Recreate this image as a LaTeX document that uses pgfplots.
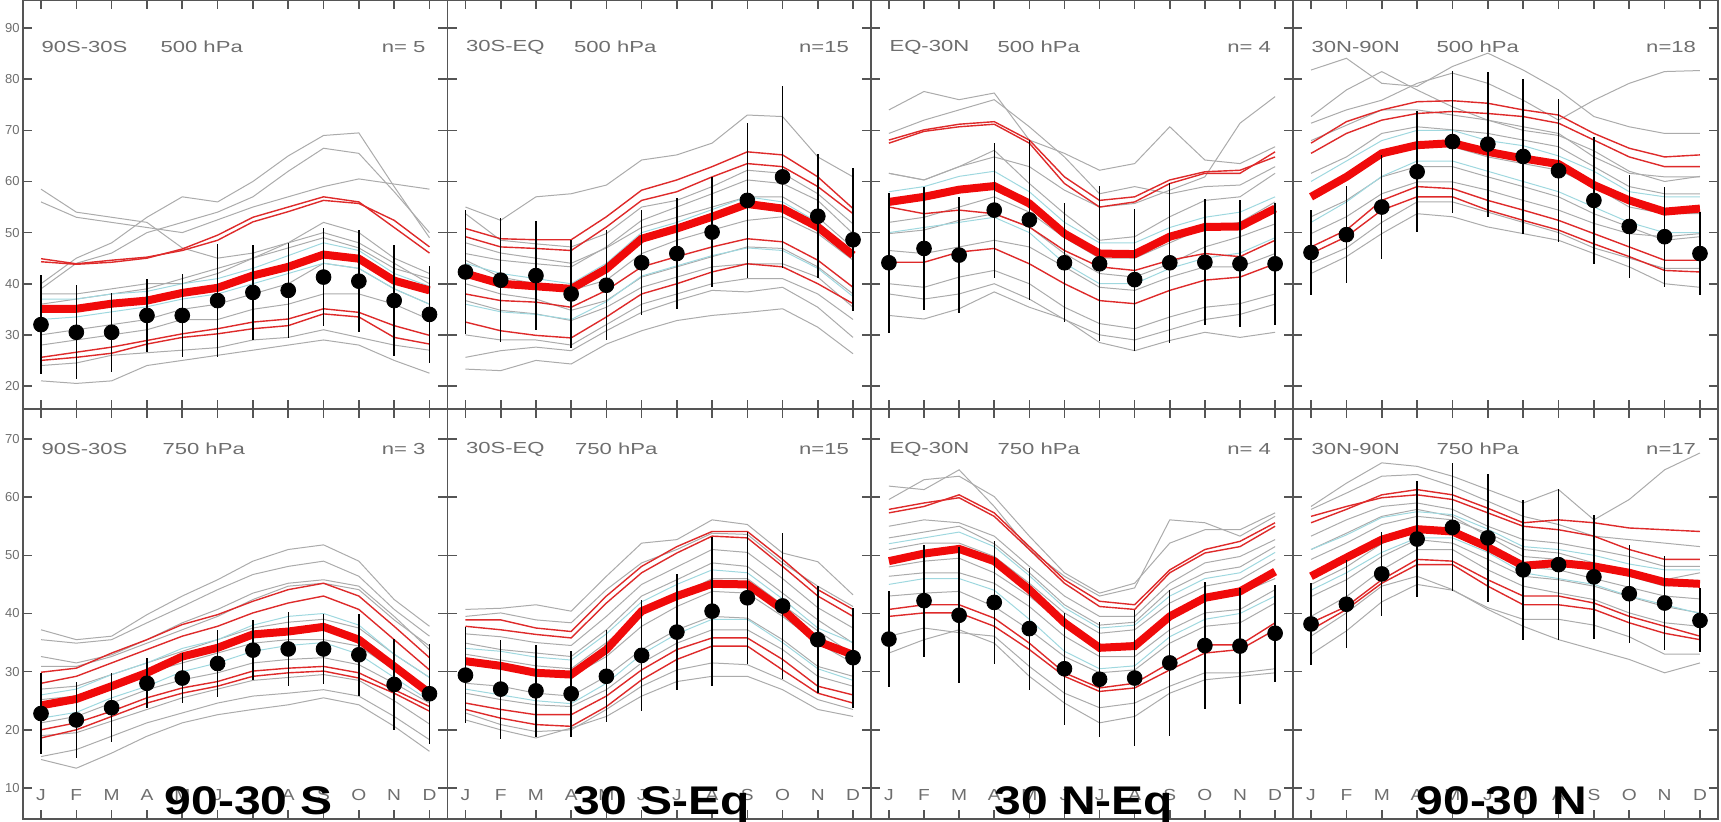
\documentclass[border=0pt]{standalone}
\usepackage{fontspec}
\setmainfont{Liberation Sans}
\usepackage{pgfplots}
\usepackage{pgfplotstable}
\pgfplotsset{compat=1.18}
\definecolor{cgray}{HTML}{ABABAB}
\definecolor{ccyan}{HTML}{9FD8DF}
\definecolor{cred}{HTML}{DE2A2A}
\definecolor{cthick}{HTML}{F00A0A}
\definecolor{caxis}{HTML}{555555}
\definecolor{clab}{HTML}{6E6E6E}

% columns: m month, d obs mean, e obs spread, t model mean, r* selected models, g*/c* other models
\pgfplotstableread{
m d e t r1 r2 r3 r4 g1 g2 g3 g4 g5 g6 g7 g8 g9 g10 c1 c2
1 32.0 9.7 35.1 44.9 25.6 25.0 44.3 40 39 56 58.5 21 24 38 30 28 36 33 37
2 30.5 9.2 35.1 43.9 26.6 25.6 43.8 45 44 53 54 20.5 24.5 38 31 29 37 33.5 37
3 30.5 7.7 36.1 44.6 27.6 26.4 44.2 48 46 52 53 21 26 39 32 30 38 34.5 38
4 33.8 7.2 36.7 45.2 28.9 28.2 45.0 53 50 51 52 24 26.5 40 33 31 39 35.5 38.5
5 33.8 8.2 38.2 46.5 30.2 29.5 46.8 57 52 50 47 25 27 40 35 33 41 37 40
6 36.7 11.1 39.2 48.5 31.2 30.2 49.5 56 54 52.5 45 26 27.5 42 36 33 43 38 41
7 38.3 9.3 41.6 52.1 32.5 31.2 53.0 60 57 55 46 27 29 45 38 35 45 40 43
8 38.7 9.3 43.3 54.1 33.1 31.8 55.0 65 62 57 48 28 29.5 48 40 36 47 42 45.5
9 41.3 9.6 45.7 56.3 35.1 34.1 57.0 69 66.5 59 52 29 31 50 44 38 49 44 48
10 40.5 10.0 44.9 55.7 34.4 33.5 56.0 69.5 65.5 60.5 50 28 29.5 48 43 38 47 43 46.5
11 36.7 10.8 40.6 52.4 31.8 29.5 51.0 59 58 59.5 45 25 28 44 39 36 43 39 42
12 34.0 9.5 38.7 47.2 29.9 28.2 46.0 49 50 58.5 42 22.5 27 40 36 33 41 36 39.5
}\tabA
\pgfplotstableread{
m d e t r1 r2 r3 r4 g1 g2 g3 g4 g5 g6 g7 g8 g9 g10 c1 c2
1 42.3 12.2 42.0 50.8 49.2 32.5 38.0 55.0 23.3 25.6 45.9 44.6 40.0 36.7 53.7 48 30 44 36
2 40.7 12.1 40.0 48.8 47.2 30.8 36.7 52.4 23.0 26.9 44.6 41.3 38.0 34.8 48.5 46 29 42 34.5
3 41.6 10.6 39.5 48.6 46.9 29.9 36.4 57.0 25.0 27.6 43.9 40.0 37.0 34.1 47.8 45 29 41 34
4 38.0 10.6 39.0 48.6 46.5 29.4 35.4 57.6 24.3 26.9 43.3 38.7 34.8 32.8 47.2 44 28 40 33
5 39.7 10.8 42.9 53.1 51.1 33.5 38.7 59.3 28.2 30.8 47.2 40.7 36.7 35.4 49.8 47 32 44 36.5
6 44.1 10.3 48.8 58.3 56.3 38.0 43.3 64.2 30.8 34.4 52.4 45.9 41.3 39.3 55.0 51 36 50 41.5
7 45.9 10.8 50.8 60.3 58.0 40.0 45.3 65.2 32.8 36.7 55.0 48.5 43.3 41.3 56.3 53 38 52 43.5
8 50.1 10.8 53.1 62.9 60.9 42.3 47.2 67.5 33.8 38.7 57.6 50.5 45.3 43.3 59.0 55 40 54.5 45.5
9 56.3 15.2 55.6 65.8 63.5 43.9 48.8 73.0 34.4 38.4 60.3 52.4 47.2 43.9 62.2 57 41 57 47
10 60.9 17.8 54.7 65.2 62.9 43.3 48.2 72.7 35.1 39.3 59.6 53.1 46.9 43.9 61.6 57 41 56 46.5
11 53.2 12.1 51.1 60.9 59.0 40.0 44.6 64.8 31.5 35.4 56.3 49.8 43.3 41.3 57.6 53 38 52 43
12 48.6 14.0 45.6 54.7 53.7 36.1 39.3 60.9 26.3 29.5 49.8 44.6 38.0 35.4 51.7 47 33 46 37.5
}\tabB
\pgfplotstableread{
m d e t r1 r2 r3 r4 g1 g2 g3 g4 g5 g6 g7 g8 g9 g10 c1 c2
1 44.1 13.7 56.0 67.5 68.1 44.2 55.0 74.0 61.6 33.8 40.0 49.8 61.6 69.4 46.5 52 38 50 58
2 46.9 12.0 57.0 69.8 70.1 44.2 53.7 77.6 60.3 33.1 39.3 50.5 60.3 72.0 45.9 53 37 51 59
3 45.6 11.3 58.4 70.7 71.2 46.2 54.4 76.0 62.9 35.1 41.3 52.4 62.9 74.0 47.2 55 38 52 61
4 54.4 13.2 59.1 71.2 71.7 46.9 53.7 77.3 64.8 38.4 42.6 53.7 66.1 76.0 48.5 57 40 53 62
5 52.5 15.7 55.7 67.5 68.1 43.9 51.1 68.1 62.9 35.4 40.0 51.1 59.6 70.7 47.2 54 37 50 58
6 44.1 11.6 49.8 59.6 60.9 40.0 46.5 65.5 58.3 33.1 35.4 45.9 53.7 64.8 43.3 49 33 44 52
7 43.9 15.2 45.9 55.0 56.3 36.7 43.3 62.2 55.0 28.5 32.2 42.0 48.5 57.6 39.3 45 30 40 48
8 40.8 13.9 45.8 56.0 57.0 36.1 42.6 63.5 55.7 26.9 31.2 41.3 49.2 59.0 38.7 45 29 40 48
9 44.1 15.7 49.2 59.6 60.3 38.7 44.6 70.7 58.3 28.9 33.5 43.9 53.1 57.6 41.3 48 31 43 51
10 44.2 12.3 51.1 61.6 61.9 40.7 45.9 64.2 60.9 30.5 35.4 47.2 56.3 59.0 43.3 51 33 45 53
11 43.9 12.4 51.2 61.6 62.2 41.3 45.3 63.5 71.4 29.5 36.1 49.2 57.0 59.3 43.3 52 34 46 54
12 43.9 11.9 54.7 65.8 64.8 43.9 48.5 66.8 76.6 30.5 38.0 51.7 61.6 62.9 45.9 56 36 49 57
}\tabC
\pgfplotstableread{
m d e t r1 r2 r3 r4 g1 g2 g3 g4 g5 g6 g7 g8 g9 g10 c1 c2
1 46.1 8.3 57.0 67.5 65.5 47.2 45.9 81.8 71.4 72.7 61.6 53.1 42.0 49.8 57.0 44 68 52 60
2 49.6 9.5 60.9 71.7 69.4 50.5 49.2 84.1 74.0 77.9 64.8 56.3 45.3 53.1 60.3 47 71 56 64
3 55.0 10.1 65.5 74.0 72.0 56.3 54.4 79.2 75.9 81.5 69.4 60.9 49.8 57.6 64.8 52 74 61 68
4 61.9 11.8 67.1 75.6 73.3 59.0 57.0 78.6 79.2 77.9 70.7 62.9 53.7 59.9 66.8 56 74 64 70
5 67.8 13.9 67.5 75.8 73.7 58.6 57.0 82.5 81.2 74.6 70.1 62.9 53.1 59.9 66.8 56 73 64 70
6 67.3 14.2 65.8 75.3 73.3 56.3 54.4 85.1 79.2 72.0 69.4 60.9 51.1 58.3 64.8 54 72 62 68
7 64.9 15.2 64.5 74.0 72.7 54.4 52.4 81.8 75.9 70.7 68.1 59.0 49.8 56.3 63.5 52 70 60 67
8 62.1 14.0 63.4 73.0 71.4 52.4 50.5 77.9 72.0 69.4 66.8 57.0 48.5 54.4 62.2 50 69 58 65
9 56.3 12.4 59.3 69.4 68.1 49.8 47.8 72.7 75.9 64.8 62.9 53.7 45.9 51.8 59.0 47 66 55 62
10 51.2 10.0 56.3 66.5 64.8 47.2 45.3 70.7 79.2 61.6 59.0 51.1 43.3 49.8 55.0 45 62 52 58
11 49.2 9.8 54.1 64.8 62.9 44.6 42.6 69.4 81.5 60.9 57.6 48.5 40.0 49.2 53.7 43 60 50 57
12 45.9 8.1 54.7 65.2 62.9 44.6 42.3 69.4 81.7 60.9 57.6 49.2 39.3 49.8 53.7 43 61 50 57
}\tabD
\pgfplotstableread{
m d e t r1 r2 r3 r4 g1 g2 g3 g4 g5 g6 g7 g8 g9 g10 c1 c2
1 22.8 6.9 24.2 29.9 28.0 18.6 20.0 37.2 35.5 30.9 14.9 15.4 21.2 25.2 32.6 27 19 22 26
2 21.7 6.5 25.3 30.6 29.2 20.0 21.2 35.5 34.9 30.9 13.4 16.6 22.3 25.8 31.5 27.5 19.5 23 27
3 23.8 5.9 27.5 33.2 31.5 22.3 23.2 36.1 35.5 32.6 16.0 18.9 24.6 28.0 32.9 29.5 21.5 25.5 29.5
4 28.0 4.3 29.8 35.5 33.8 24.6 25.5 39.8 38.4 34.9 18.9 21.2 26.9 29.8 35.5 31.5 23.5 27.5 31.5
5 28.9 4.3 32.6 38.1 36.1 26.3 27.2 43.0 41.2 37.2 21.2 22.9 28.6 31.5 38.4 33.5 25.5 30 34
6 31.4 5.7 34.1 39.8 37.8 27.5 28.3 45.8 44.1 39.5 22.6 24.6 29.8 33.2 40.7 35.5 27 31.5 35.5
7 33.7 5.2 36.4 42.1 40.1 29.2 30.1 49.0 46.7 42.4 23.5 25.8 31.5 34.9 43.5 37.5 28.5 33.5 38
8 33.9 6.4 36.9 44.1 41.8 29.8 30.6 51.0 48.1 44.7 24.3 26.3 32.1 35.5 45.2 38.5 29 34.5 39.5
9 33.9 6.0 37.7 45.2 43.0 30.1 30.9 51.8 49.0 45.2 25.5 26.9 32.4 35.5 45.8 39 29.5 35 40
10 32.9 7.0 35.5 43.0 40.7 28.9 29.8 49.0 46.4 44.1 24.3 25.8 31.2 34.4 44.7 37.5 28.5 33 38
11 27.8 7.9 30.9 37.8 35.5 26.3 26.9 42.4 40.7 38.9 20.6 22.3 28.0 30.3 39.5 33 25 29 33
12 26.2 8.6 26.3 32.4 30.3 23.2 24.0 37.8 36.1 34.4 16.3 18.3 24.6 26.3 33.8 29 21 25 29
}\tabE
\pgfplotstableread{
m d e t r1 r2 r3 r4 g1 g2 g3 g4 g5 g6 g7 g8 g9 g10 c1 c2
1 29.4 8.3 31.8 38.9 37.8 24.6 23.5 40.7 39.5 21.7 22.9 28.0 34.9 31.5 26.3 33 36.5 27 34
2 27.0 8.5 31.0 38.9 37.2 23.5 22.0 40.9 40.1 20.0 20.9 27.5 33.8 30.6 25.2 32 36 26 33.5
3 26.7 7.9 29.8 37.5 36.4 22.6 20.9 41.5 38.9 18.6 19.7 26.3 33.2 29.8 24.3 31 35 25 32.5
4 26.2 7.4 29.5 36.9 35.8 22.6 20.6 40.4 38.4 20.3 20.0 25.8 32.6 29.2 24.0 30.5 34.5 24.5 32
5 29.2 7.9 33.8 43.0 41.8 25.8 24.0 46.4 44.1 22.3 23.5 29.2 37.2 32.6 26.9 35 39.5 28 36.5
6 32.8 9.6 40.4 48.1 47.0 30.3 28.6 52.1 48.7 25.8 27.5 33.8 43.0 37.8 31.5 40 45 33 42
7 36.8 10.0 43.0 51.5 50.4 33.8 32.1 52.7 51.0 28.3 30.3 37.2 45.8 41.2 34.9 43 48 36.5 45
8 40.4 12.8 45.1 54.1 53.3 35.8 34.4 56.1 53.8 29.2 31.5 39.5 48.7 43.8 37.2 46 51 39 47.5
9 42.7 11.3 45.0 54.1 53.0 35.8 34.4 55.3 53.6 29.2 31.2 39.2 48.1 43.5 37.2 46 50.5 39 47
10 41.3 12.5 40.7 49.3 48.1 32.1 30.3 50.4 48.7 26.9 28.6 35.5 43.5 39.5 33.8 41.5 46 35 42.5
11 35.5 9.2 35.2 44.1 43.0 27.5 26.3 48.9 44.7 23.5 25.2 30.9 38.9 34.9 29.2 37 41 30.5 37.5
12 32.4 8.6 32.9 40.7 39.5 26.0 24.6 43.2 41.2 22.3 23.5 29.2 34.9 31.5 27.5 33 37.5 28.5 35
}\tabF
\pgfplotstableread{
m d e t r1 r2 r3 r4 g1 g2 g3 g4 g5 g6 g7 g8 g9 g10 c1 c2
1 35.6 8.3 49.0 57.3 57.9 40.7 39.5 61.9 59.6 55.0 51.0 46.4 33.2 36.1 43.0 53 48 45 52
2 42.2 9.6 50.3 58.4 59.0 41.5 40.1 61.3 63.0 56.1 52.1 47.0 35.5 37.5 43.5 54 49 46 53
3 39.7 11.7 51.1 60.4 59.9 41.5 40.1 64.7 63.6 55.6 52.1 47.0 37.2 36.7 43.8 55 49.5 46 54
4 41.9 10.6 49.0 57.3 56.7 39.2 37.8 58.4 60.1 53.3 49.8 45.2 34.9 36.1 41.2 52 47 44 51.5
5 37.4 10.5 44.1 51.5 51.0 34.9 33.8 51.0 53.3 48.1 45.2 41.2 29.2 30.9 37.2 47 43 39 46.5
6 30.5 9.6 38.4 45.8 45.2 29.8 29.2 46.4 47.0 43.0 40.1 36.1 24.6 26.3 32.6 41.5 38 33.5 41
7 28.7 9.9 34.1 42.1 41.2 27.2 26.6 43.0 43.5 39.5 36.6 32.6 21.2 23.8 29.8 38 34.5 30.5 37.5
8 28.9 11.7 34.4 41.5 40.7 28.0 27.2 44.4 45.2 39.5 37.2 32.6 22.3 24.6 30.3 38.5 35 31 38
9 31.5 12.5 39.5 47.5 47.0 31.5 30.3 56.1 52.1 45.2 41.8 37.2 26.3 27.5 34.9 44 40 36 43
10 34.5 11.0 42.7 51.0 50.4 34.6 33.2 55.6 54.4 48.7 44.7 40.1 28.6 29.8 37.8 47 42.5 39 46
11 34.4 10.0 43.8 52.4 51.5 34.6 33.8 53.3 54.4 49.8 45.8 40.7 29.2 29.8 38.4 48 43.5 40 47
12 36.6 8.3 47.2 55.6 55.0 38.4 37.2 56.7 57.3 52.7 49.3 44.1 29.8 30.5 41.8 51.5 46 43 50.5
}\tabG
\pgfplotstableread{
m d e t r1 r2 r3 r4 g1 g2 g3 g4 g5 g6 g7 g8 g9 g10 c1 c2
1 38.2 7.0 46.4 55.6 56.7 37.2 38.4 58.4 57.9 53.3 36.1 39.5 49.3 42.9 51.0 45 33 44 51
2 41.6 7.6 49.6 57.9 58.4 40.7 41.2 62.4 60.7 56.1 40.1 42.9 52.1 45.8 53.8 48 37 47 53.5
3 46.8 7.2 52.7 60.4 59.9 45.2 45.8 65.9 63.6 58.4 44.7 47.5 55.3 49.8 56.7 52 42 50.5 56.5
4 52.8 10.0 54.5 61.3 60.4 48.4 49.3 65.3 63.9 59.0 46.4 51.0 56.7 52.7 57.9 54.5 45 53 57.5
5 54.8 11.0 54.1 60.4 59.6 48.4 49.0 63.6 61.9 57.9 44.1 51.0 56.1 52.1 56.7 54 44 53 57
6 53.0 11.0 51.4 58.1 57.3 44.7 45.8 61.3 59.3 55.0 40.7 47.5 53.8 49.3 53.3 51 41 50.5 54.5
7 47.5 12.0 48.2 55.6 55.0 41.5 43.0 59.0 56.7 52.7 37.8 44.7 51.0 46.4 49.8 48 39 47 51.5
8 48.4 13.0 48.7 56.1 54.4 41.5 43.0 61.3 55.3 52.1 35.5 43.5 50.4 45.8 49.3 47.5 39 46 51
9 46.3 10.6 48.1 55.6 53.3 40.7 41.8 56.1 53.3 51.0 33.8 42.4 48.7 44.7 48.1 46 38 45 50
10 43.4 8.4 47.0 54.7 51.0 38.4 39.5 59.6 52.7 49.8 32.1 40.1 46.4 42.9 46.4 44.5 36 43 48.5
11 41.8 8.0 45.4 54.4 49.3 36.6 37.8 64.7 52.1 48.1 29.8 38.4 44.7 41.2 45.8 43 33 41.5 47.5
12 38.8 5.5 45.1 54.1 49.3 35.5 36.1 67.6 51.5 48.1 31.5 37.8 45.2 40.1 47.0 42.5 33 40 47.5
}\tabH

\tikzset{lab/.style={font=\fontsize{8}{9}\selectfont, text=clab, inner sep=0pt, xscale=1.38}}
\pgfplotsset{
  panel/.style={
    scale only axis, anchor=south west,
    xmin=0.49, xmax=12.51, xtick={1,...,12}, xticklabels={},
    yticklabels={},
    tick align=inside, major tick length=4.5pt,
    axis line style={draw=caxis, line width=0.8pt},
    every tick/.style={draw=caxis, line width=0.8pt},
    yticklabel style={font=\fontsize{6.5}{7}\selectfont, text=clab, inner sep=1.5pt},
    clip=true,
  },
  toprow/.style={ymin=15.5, ymax=95.5, height=204.5pt, ytick={20,30,...,90}},
  botrow/.style={ymin=4.67, ymax=75.16, height=205pt, ytick={10,20,...,70},
    xticklabels={J,F,M,A,M,J,J,A,S,O,N,D},
    xticklabel style={anchor=center, yshift=12pt, font=\fontsize{8}{9}\selectfont, text=clab, xscale=1.2}},
}

\newcommand{\drawpanel}[1]{%
  \pgfplotsinvokeforeach{1,...,10}{\addplot[draw=cgray, line width=0.5pt, no marks] table[x=m, y=g##1]{#1};}
  \pgfplotsinvokeforeach{1,2}{\addplot[draw=ccyan, line width=0.5pt, no marks] table[x=m, y=c##1]{#1};}
  \pgfplotsinvokeforeach{1,...,4}{\addplot[draw=cred, line width=0.7pt, no marks] table[x=m, y=r##1]{#1};}
  \addplot[draw=cthick, line width=4pt, no marks] table[x=m, y=t]{#1};
  \addplot[only marks, mark=*, mark size=3.7pt, black,
    error bars/.cd, y dir=both, y explicit, error mark=none,
    error bar style={black, line width=0.7pt}] table[x=m, y=d, y error=e]{#1};
}
% #1 region, #2 level, #3 n, #4 x of level, #5 y from top
\newcommand{\plabel}[5]{%
  \node[lab, anchor=west] at ([xshift=9pt, yshift=-#5]rel axis cs:0,1) {#1};
  \node[lab, anchor=west] at ([xshift=#4, yshift=-#5]rel axis cs:0,1) {#2};
  \node[lab, anchor=east] at ([xshift=-10.75pt, yshift=-#5]rel axis cs:1,1) {#3};
}

\begin{document}
\begin{tikzpicture}
\useasboundingbox (0,0) rectangle (860.5pt,411pt);

% 500 hPa row
\begin{axis}[panel, toprow, at={(11.5pt,206.5pt)}, width=212.25pt,
  yticklabels={20,30,40,50,60,70,80,90}]
\drawpanel{\tabA}
\plabel{90S-30S}{500 hPa}{n= 5}{68.5pt}{23.5pt}
\end{axis}
\begin{axis}[panel, toprow, at={(223.75pt,206.5pt)}, width=211.75pt]
\drawpanel{\tabB}
\plabel{30S-EQ}{500 hPa}{n=15}{63pt}{23.5pt}
\end{axis}
\begin{axis}[panel, toprow, at={(435.5pt,206.5pt)}, width=211pt]
\drawpanel{\tabC}
\plabel{EQ-30N}{500 hPa}{n= 4}{63pt}{23.5pt}
\end{axis}
\begin{axis}[panel, toprow, at={(646.5pt,206.5pt)}, width=212.5pt]
\drawpanel{\tabD}
\plabel{30N-90N}{500 hPa}{n=18}{71.5pt}{23.5pt}
\end{axis}

% 750 hPa row
\begin{axis}[panel, botrow, at={(11.5pt,1.5pt)}, width=212.25pt,
  yticklabels={10,20,30,40,50,60,70}]
\drawpanel{\tabE}
\plabel{90S-30S}{750 hPa}{n= 3}{69.5pt}{20pt}
\end{axis}
\begin{axis}[panel, botrow, at={(223.75pt,1.5pt)}, width=211.75pt]
\drawpanel{\tabF}
\plabel{30S-EQ}{750 hPa}{n=15}{63.5pt}{20pt}
\end{axis}
\begin{axis}[panel, botrow, at={(435.5pt,1.5pt)}, width=211pt]
\drawpanel{\tabG}
\plabel{EQ-30N}{750 hPa}{n= 4}{63pt}{20pt}
\end{axis}
\begin{axis}[panel, botrow, at={(646.5pt,1.5pt)}, width=212.5pt]
\drawpanel{\tabH}
\plabel{30N-90N}{750 hPa}{n=17}{71.5pt}{20pt}
\end{axis}

% region captions
\begin{scope}[every node/.style={font=\bfseries\fontsize{20}{20}\selectfont, anchor=base, xscale=1.2, inner sep=0pt}]
\node at (124.5pt,3.5pt) {90-30 S};
\node at (331pt,3.5pt) {30 S-Eq};
\node at (542pt,3.5pt) {30 N-Eq};
\node at (751pt,3.5pt) {90-30 N};
\end{scope}
\end{tikzpicture}
\end{document}
